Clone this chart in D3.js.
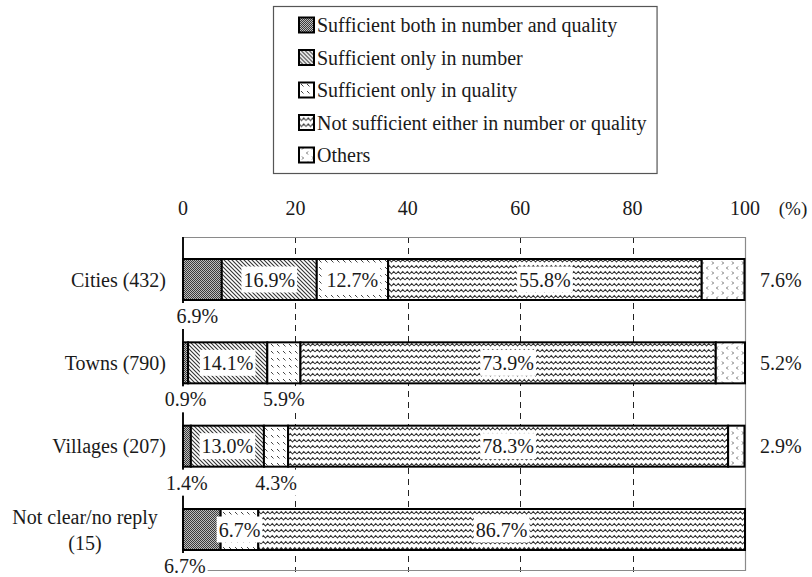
<!DOCTYPE html>
<html>
<head>
<meta charset="utf-8">
<script src="https://cdn.jsdelivr.net/npm/d3@7"></script>
<style>
  html, body { margin: 0; padding: 0; background: #fff; }
  svg { display: block; }
</style>
</head>
<body>
<svg id="chart" width="812" height="577" font-family="'Liberation Serif', 'Times New Roman', 'DejaVu Serif', serif"></svg>
<script>
// Respondent groups (label lines) and their sample sizes
const categories = ["Cities (432)", "Towns (790)", "Villages (207)", "Not clear/no reply (15)"];
const categoryLines = [["Cities (432)"], ["Towns (790)"], ["Villages (207)"], ["Not clear/no reply", "(15)"]];

// Answer options, in stacking order
const seriesNames = [
  "Sufficient both in number and quality",
  "Sufficient only in number",
  "Sufficient only in quality",
  "Not sufficient either in number or quality",
  "Others"
];

// Shares (%) per group, one array per answer option
const bothValues          = [6.9, 0.9, 1.4, 6.7];
const numberOnlyValues    = [16.9, 14.1, 13.0, 0];
const qualityOnlyValues   = [12.7, 5.9, 4.3, 6.7];
const notSufficientValues = [55.8, 73.9, 78.3, 86.7];
const othersValues        = [7.6, 5.2, 2.9, 0];

const tickValues = [0, 20, 40, 60, 80, 100];
const unitLabel = "(%)";

const seriesValues = [bothValues, numberOnlyValues, qualityOnlyValues, notSufficientValues, othersValues];
const patternIds = ["pBoth", "pNumber", "pQuality", "pNot", "pOthers"];

const svg = d3.select("#chart");
const textColor = "#1a1a1a";
const fontSize = 20;
const margin = { left: 183, right: 745, top: 237, bottom: 572 };

// ---- fill patterns ----
const defs = svg.append("defs");
function pattern(id, w, h) {
  return defs.append("pattern").attr("id", id).attr("patternUnits", "userSpaceOnUse")
    .attr("width", w).attr("height", h);
}
{
  const p = pattern("pBoth", 2, 2);
  p.append("rect").attr("width", 2).attr("height", 2).attr("fill", "#bdbdbd");
  p.append("rect").attr("width", 1).attr("height", 1).attr("fill", "#3a3a3a");
  p.append("rect").attr("x", 1).attr("y", 1).attr("width", 1).attr("height", 1).attr("fill", "#3a3a3a");
}
{
  const p = pattern("pNumber", 4, 4);
  p.append("rect").attr("width", 4).attr("height", 4).attr("fill", "#fff");
  p.append("path").attr("d", "M-1,-1L5,5M3,-1L5,1M-1,3L1,5")
    .attr("stroke", "#333").attr("stroke-width", 1.1);
}
{
  const p = pattern("pQuality", 6, 7);
  p.append("rect").attr("width", 6).attr("height", 7).attr("fill", "#fff");
  p.append("path").attr("d", "M1,1L3.5,3.5").attr("stroke", "#444").attr("stroke-width", 1);
}
{
  const p = pattern("pNot", 9, 6);
  p.append("rect").attr("width", 9).attr("height", 6).attr("fill", "#fff");
  p.append("path").attr("d", "M0,4L2.25,1.5L4.5,4L6.75,1.5L9,4")
    .attr("stroke", "#333").attr("stroke-width", 1.1).attr("fill", "none");
}
{
  const p = pattern("pOthers", 10, 10);
  p.append("rect").attr("width", 10).attr("height", 10).attr("fill", "#fff");
  p.append("path").attr("d", "M2,1.5L3.5,3L2,4.5M8,6.5L6.5,8L8,9.5")
    .attr("stroke", "#555").attr("stroke-width", 0.9).attr("fill", "none");
}

// ---- scales ----
const x = d3.scaleLinear().domain([0, 100]).range([margin.left, margin.right]);
const y = d3.scaleBand().domain(categories).range([margin.top, margin.bottom])
  .paddingInner(0.508).paddingOuter(0.264);

// ---- grid lines ----
svg.append("g").selectAll("line").data(tickValues.filter(v => v > 0 && v < 100)).join("line")
  .attr("x1", d => Math.round(x(d)) + 0.5).attr("x2", d => Math.round(x(d)) + 0.5)
  .attr("y1", margin.top).attr("y2", margin.bottom)
  .attr("stroke", "#222").attr("stroke-width", 1).attr("stroke-dasharray", "6,5");

// ---- frame ----
const frame = svg.append("g").attr("fill", "none");
frame.append("path").attr("d", `M${margin.left},${margin.top + 0.5}H${margin.right + 0.5}V${margin.bottom - 1.5}H${margin.left}`)
  .attr("stroke", "#8a8a8a").attr("stroke-width", 1.2);
frame.append("line").attr("x1", margin.left).attr("x2", margin.left)
  .attr("y1", margin.top).attr("y2", margin.bottom - 1)
  .attr("stroke", "#111").attr("stroke-width", 2);

// ---- tick labels ----
svg.append("g").selectAll("text").data(tickValues).join("text")
  .attr("x", d => x(d)).attr("y", 208).attr("dy", "0.35em").attr("fill", textColor)
  .attr("text-anchor", "middle").attr("font-size", fontSize).text(d => d);
svg.append("text").attr("x", 793).attr("y", 208).attr("dy", "0.35em").attr("fill", textColor)
  .attr("text-anchor", "middle").attr("font-size", 19).text(unitLabel);

// ---- stacked segments ----
const rows = categories.map((c, i) => {
  let acc = 0;
  return seriesValues.map((vals, s) => {
    const v = vals[i];
    const seg = { cat: c, row: i, s, v, x0: acc, x1: Math.min(100, acc + v) };
    acc += v;
    return seg;
  });
});
const allSegs = rows.flat().filter(d => d.v > 0);

svg.append("g").selectAll("rect").data(allSegs).join("rect")
  .attr("x", d => x(d.x0)).attr("width", d => x(d.x1) - x(d.x0))
  .attr("y", d => y(d.cat)).attr("height", y.bandwidth())
  .attr("fill", d => `url(#${patternIds[d.s]})`)
  .attr("stroke", "#000").attr("stroke-width", 2);

// ---- value labels ----
const fmt = v => v.toFixed(1) + "%";
const belowNudge = { "0-0": -5, "3-0": -17 };
const labels = allSegs.map(d => {
  const mid = x((d.x0 + d.x1) / 2);
  if (d.s === seriesNames.length - 1) {
    return { d, x: 760, y: y(d.cat) + y.bandwidth() / 2, anchor: "start", box: false };
  }
  if (d.s > 0 && d.v >= 6.5) {
    return { d, x: mid, y: y(d.cat) + y.bandwidth() / 2, anchor: "middle", box: true };
  }
  return { d, x: mid + (belowNudge[`${d.row}-${d.s}`] || 0), y: y(d.cat) + y.bandwidth() + 16, anchor: "middle", box: true };
});

const lg = svg.append("g");
labels.forEach(l => {
  const t = lg.append("text").attr("x", l.x).attr("y", l.y).attr("dy", "0.35em").attr("fill", textColor)
    .attr("text-anchor", l.anchor).attr("font-size", fontSize).text(fmt(l.d.v));
  if (l.box) {
    const b = t.node().getBBox();
    lg.insert("rect", () => t.node())
      .attr("x", b.x - 2).attr("y", l.y - 13).attr("width", b.width + 4).attr("height", 26)
      .attr("fill", "#fff");
  }
});

// ---- category labels ----
const cg = svg.append("g");
categoryLines.forEach((lines, i) => {
  const cy = y(categories[i]) + y.bandwidth() / 2;
  if (lines.length === 1) {
    cg.append("text").attr("x", 166).attr("y", cy).attr("dy", "0.35em").attr("fill", textColor)
      .attr("text-anchor", "end").attr("font-size", fontSize).text(lines[0]);
  } else {
    lines.forEach((ln, k) => {
      cg.append("text").attr("x", 85).attr("y", cy + (k - (lines.length - 1) / 2) * 26).attr("dy", "0.35em")
        .attr("fill", textColor).attr("text-anchor", "middle").attr("font-size", fontSize).text(ln);
    });
  }
});

// ---- legend ----
const legend = svg.append("g");
const legendX = 273, legendTop = 6, rowGap = 32.5, firstRowY = 25;
const items = legend.selectAll("g").data(seriesNames).join("g")
  .attr("transform", (d, i) => `translate(0,${firstRowY + i * rowGap})`);
items.append("rect").attr("x", 299).attr("y", -7.5).attr("width", 15).attr("height", 15)
  .attr("fill", (d, i) => `url(#${patternIds[i]})`).attr("stroke", "#000").attr("stroke-width", 2);
items.append("text").attr("x", 317).attr("dy", "0.35em").attr("font-size", fontSize)
  .attr("fill", textColor).text(d => d);
const maxRight = d3.max(items.selectAll("text").nodes(), n => n.getBBox().x + n.getBBox().width);
legend.insert("rect", ":first-child")
  .attr("x", legendX + 0.5).attr("y", legendTop + 0.5)
  .attr("width", maxRight + 10 - legendX).attr("height", 167)
  .attr("fill", "#fff").attr("stroke", "#555").attr("stroke-width", 1.2);
</script>
</body>
</html>
